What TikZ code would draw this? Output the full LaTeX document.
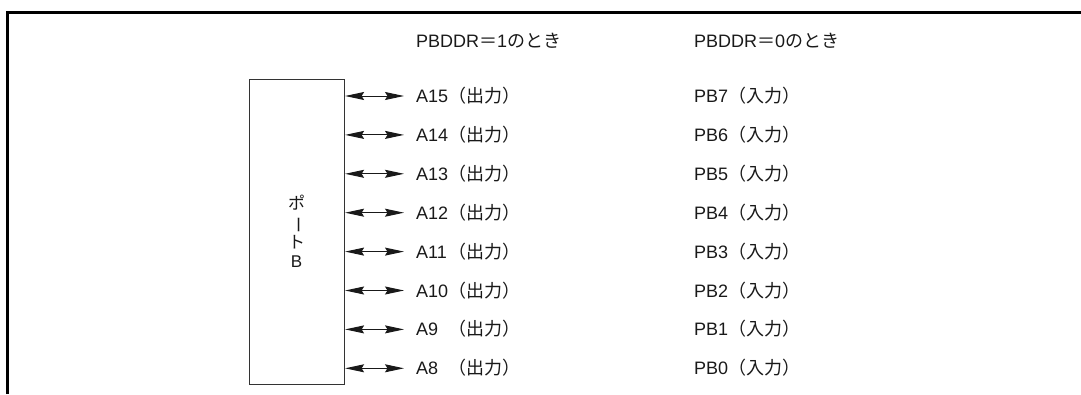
\documentclass[tikz,border=0pt]{standalone}
\usepackage{fontspec}
\usepackage{graphicx}
\setmainfont{Liberation Sans}
\newfontfamily\jp{Noto Sans CJK JP}
\usetikzlibrary{arrows.meta}
\begin{document}
\begin{tikzpicture}[x=1pt,y=-1pt,
  lbl/.style={anchor=base west,inner sep=0pt,font=\fontsize{18}{21}\selectfont,text=black!90},
  tip/.tip={Stealth[length=19pt,width=8pt,inset=2.5pt]},
  portarrow/.style={tip-tip,line width=1pt,draw=black!90},
  ]
\useasboundingbox (0,0) rectangle (1081,394);
\draw[line width=2.2pt] (7.5,394) -- (7.5,12.5) -- (1081,12.5);
\node[draw=black!80, line width=1.1pt, minimum width=95pt, minimum height=305pt, inner sep=0pt, anchor=north west] (port) at (249,79) {};
\node[inner sep=0pt, align=center, text=black!90, font=\fontsize{17}{19.5}\selectfont] (vt) at (296.5,231.5)
  {{\jp ポ}\\{\jp\rotatebox[origin=c]{-90}{ー}}\\{\jp ト}\\B};
\node[lbl] (h1) at (416,47) {PBDDR{\jp ＝}1{\jp のとき}};
\node[lbl] (h2) at (694,47) {PBDDR{\jp ＝}0{\jp のとき}};
\foreach \i/\a/\p in {0/A15/PB7,1/A14/PB6,2/A13/PB5,3/A12/PB4,4/A11/PB3,5/A10/PB2,6/A9/PB1,7/A8/PB0}{
  \pgfmathsetmacro{\yy}{96+38.9*\i}
  \coordinate (e\i) at (404,\yy);
  \draw[portarrow] (port.east |- e\i) -- (e\i);
  \node[lbl] (a\i) at (416,\yy+6.5) {\makebox[32pt][l]{\a}{\jp （出力）}};
  \node[lbl] (b\i) at (694,\yy+6.5) {\p{\jp （入力）}};
}
\end{tikzpicture}
\end{document}
